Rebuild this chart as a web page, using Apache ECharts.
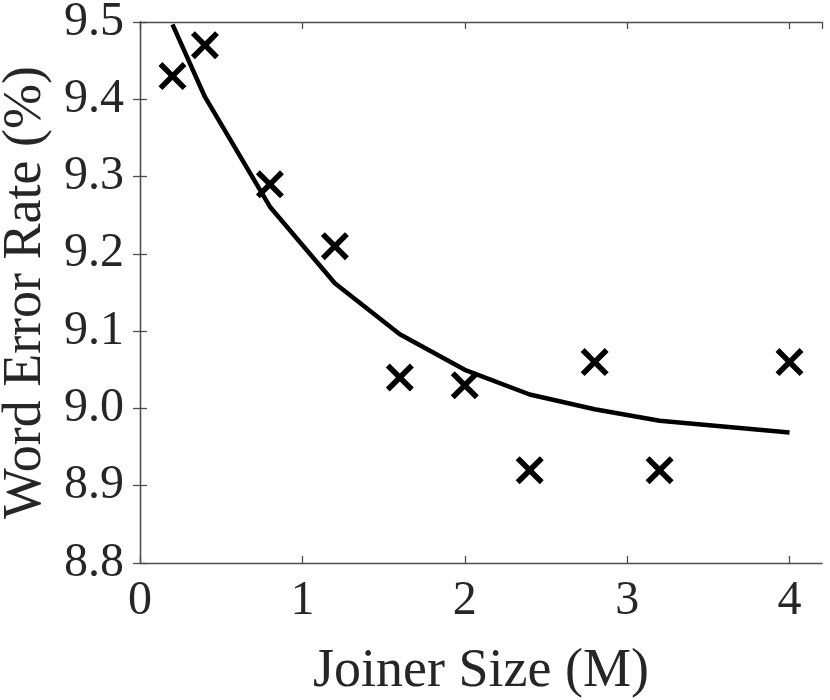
<!DOCTYPE html>
<html>
<head>
<meta charset="utf-8">
<script src="https://cdn.jsdelivr.net/npm/echarts@6/dist/echarts.min.js"></script>
<style>html,body{margin:0;padding:0;background:#fff}#c{width:830px;height:700px}</style>
</head>
<body>
<div id="c"></div>
<script>
const joinerSizes = [0.2, 0.4, 0.8, 1.2, 1.6, 2.0, 2.4, 2.8, 3.2, 4.0];
const werMeasured = [9.43, 9.47, 9.29, 9.21, 9.04, 9.03, 8.92, 9.06, 8.92, 9.06];
const werFit = [9.497, 9.403, 9.261, 9.162, 9.096, 9.05, 9.018, 8.999, 8.984, 8.969];
const xTicks = [0, 1, 2, 3, 4];
const yTicks = [8.8, 8.9, 9.0, 9.1, 9.2, 9.3, 9.4, 9.5];

const FONT = '"Liberation Serif", "Times New Roman", "DejaVu Serif", serif';
const TXT = '#262626';
const AX = '#4d4d4d';
const d = 14;
const crossPath = 'path://M0,' + d + 'L' + d + ',0L50,' + (50 - d) + 'L' + (100 - d) + ',0L100,' + d +
  'L' + (50 + d) + ',50L100,' + (100 - d) + 'L' + (100 - d) + ',100L50,' + (50 + d) +
  'L' + d + ',100L0,' + (100 - d) + 'L' + (50 - d) + ',50Z';

const chart = echarts.init(document.getElementById('c'));
const axisLineStyle = { show: true, lineStyle: { color: AX, width: 1.3 } };
const tickStyle = { show: true, inside: true, length: 7, lineStyle: { color: AX, width: 1.3 } };
chart.setOption({
  animation: false,
  grid: { left: 140, top: 22, right: 8, bottom: 137, containLabel: false, outerBoundsMode: 'none' },
  xAxis: [{
    type: 'value', min: 0, max: 4.2, interval: 1,
    axisLine: axisLineStyle, axisTick: tickStyle, splitLine: { show: false },
    axisLabel: {
      color: TXT, fontFamily: FONT, fontSize: 48, margin: 14, showMaxLabel: false,
      formatter: v => xTicks.includes(v) ? String(v) : ''
    },
    name: 'Joiner Size (M)', nameLocation: 'middle', nameGap: 82,
    nameTextStyle: { color: TXT, fontFamily: FONT, fontSize: 54 }
  }, {
    type: 'value', position: 'top', min: 0, max: 4.2, interval: 1,
    axisLine: axisLineStyle, axisTick: tickStyle, axisLabel: { show: false }, splitLine: { show: false }
  }],
  yAxis: [{
    type: 'value', min: 8.8, max: 9.5, interval: 0.1,
    axisLine: axisLineStyle, axisTick: tickStyle, splitLine: { show: false },
    axisLabel: {
      color: TXT, fontFamily: FONT, fontSize: 48, margin: 16,
      formatter: v => v.toFixed(1)
    },
    name: 'Word Error Rate (%)', nameLocation: 'middle', nameGap: 75,
    nameTextStyle: { color: TXT, fontFamily: FONT, fontSize: 54 }
  }, {
    type: 'value', position: 'right', min: 8.8, max: 9.5, interval: 0.1,
    axisLine: axisLineStyle, axisTick: tickStyle, axisLabel: { show: false }, splitLine: { show: false }
  }],
  series: [{
    type: 'scatter',
    data: joinerSizes.map((x, i) => [x, werMeasured[i]]),
    symbol: crossPath, symbolSize: 28,
    itemStyle: { color: '#000', opacity: 1 },
    z: 3
  }, {
    type: 'line',
    data: joinerSizes.map((x, i) => [x, werFit[i]]),
    showSymbol: false, symbol: 'none',
    lineStyle: { color: '#000', width: 4.5 },
    z: 2
  }]
});
</script>
</body>
</html>
